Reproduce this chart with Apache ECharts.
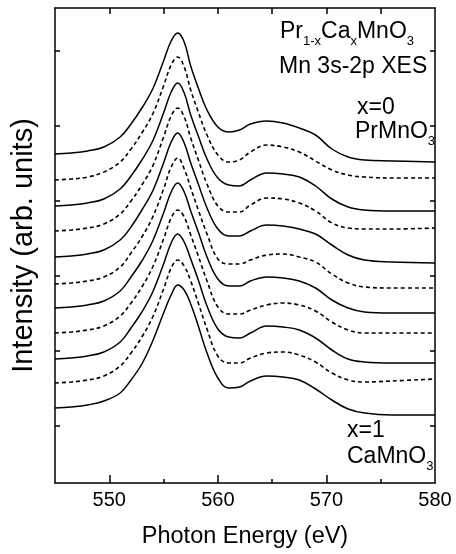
<!DOCTYPE html>
<html>
<head>
<meta charset="utf-8">
<script src="https://cdn.jsdelivr.net/npm/echarts/dist/echarts.min.js"></script>
<style>
html, body { margin: 0; padding: 0; background: #fff; }
#chart_container { width: 456px; height: 554px; }
</style>
</head>
<body>
<div id="chart_container"></div>
<script>
// Mn 3s-2p XES of Pr(1-x)Ca(x)MnO3, spectra stacked with vertical offset

// photon energy grid (eV), shared by all traces
var energies = [545, 546.5, 548, 549.5, 551, 552, 553, 554, 555, 555.7, 556.3, 556.9, 557.5, 558.2,
                559, 560, 561, 562, 563, 564.5, 566, 567.5, 569, 570.5, 572, 573.5, 576, 580];

// intensity (arb. units, offset included), top trace x=0 ... bottom trace x=1
var trace01 = [329, 330, 332, 336, 346, 359, 375, 394, 422, 442, 450, 441, 417, 395, 373, 356, 351, 353, 359, 362, 360, 355, 348, 334, 326, 323, 322, 321];
var trace02 = [303, 304, 306, 311, 321, 334, 350, 369, 397, 418, 426, 416, 393, 371, 348, 328, 321, 323, 331, 338, 336, 331, 322, 313, 308, 306, 305, 305];
var trace03 = [277, 278, 280, 284, 294, 307, 323, 342, 370, 391, 400, 390, 368, 347, 324, 305, 298, 297, 303, 310, 309, 306, 297, 284, 276, 273, 272, 272];
var trace04 = [252, 253, 255, 259, 269, 282, 298, 317, 346, 367, 375, 366, 345, 323, 299, 277, 271, 271, 278, 285, 284, 280, 272, 260, 255, 254, 254, 255];
var trace05 = [226, 227, 229, 233, 243, 256, 273, 292, 320, 341, 350, 340, 320, 299, 275, 254, 247, 247, 252, 258, 257, 254, 249, 238, 228, 223, 221, 220];
var trace06 = [199, 200, 202, 206, 216, 230, 246, 266, 294, 316, 325, 314, 295, 273, 249, 224, 219, 219, 223, 228, 229, 226, 221, 209, 200, 196, 195, 195];
var trace07 = [175, 176, 178, 182, 192, 206, 222, 242, 270, 291, 300, 291, 272, 251, 226, 204, 197, 197, 202, 206, 205, 202, 195, 183, 175, 171, 170, 170];
var trace08 = [150, 151, 153, 157, 167, 180, 196, 216, 244, 265, 273, 266, 248, 227, 202, 176, 169, 169, 173, 178, 180, 178, 172, 161, 153, 150, 150, 150];
var trace09 = [124, 125, 127, 131, 141, 155, 171, 191, 219, 240, 249, 241, 224, 203, 177, 154, 146, 145, 150, 157, 156, 153, 145, 133, 124, 121, 120, 120];
var trace10 = [100, 101, 103, 107, 117, 130, 146, 166, 194, 215, 223, 217, 202, 180, 154, 127, 120, 120, 125, 130, 131, 128, 121, 110, 103, 101, 102, 104];
var trace11 = [75, 76, 78, 82, 90, 103, 119, 142, 170, 188, 198, 193, 179, 157, 130, 105, 95, 96, 102, 107, 106, 103, 94, 83, 74, 70, 68, 68];

var traces = [trace01, trace02, trace03, trace04, trace05, trace06, trace07, trace08, trace09, trace10, trace11];
var traceDashed = [false, true, false, true, false, true, false, true, false, true, false];

// axes
var xLabels = [550, 560, 570, 580];
var xMajorTicks = [550, 560, 570];
var xMinorTicks = [555, 565, 575];
var xTopTicks = [550, 555, 560, 565, 570, 575];
var yTicks = [57, 132, 207, 282, 357, 432];

var FONT = 'Liberation Sans, Arial, sans-serif';

var chartDom = document.getElementById('chart_container');
var myChart = echarts.init(chartDom);

var series = [];
for (let i = 0; i < traces.length; i++) {
    let pts = [];
    for (let j = 0; j < energies.length; j++) {
        pts.push([energies[j], traces[i][j]]);
    }
    series.push({
        type: 'line',
        xAxisIndex: 0,
        yAxisIndex: 0,
        data: pts,
        showSymbol: false,
        smooth: 0.4,
        lineStyle: {
            color: '#000',
            width: traceDashed[i] ? 1.6 : 1.5,
            type: traceDashed[i] ? [4, 3] : 'solid',
        },
        silent: true,
    });
}

var blackLine = { color: '#000', width: 1.5 };

// rich styles for formula text with subscripts
var formulaRich = {
    n: { fontSize: 23, fontFamily: FONT, fill: '#000', verticalAlign: 'bottom', padding: [0, 0, 4, 0] },
    s: { fontSize: 13, fontFamily: FONT, fill: '#000', verticalAlign: 'bottom' },
};

var opt = {
    animation: false,
    backgroundColor: '#fff',
    grid: { left: 55, right: 21, top: 8, bottom: 71 },
    xAxis: [
        {
            type: 'value',
            position: 'bottom',
            min: 545,
            max: 580,
            axisLine: { show: true, onZero: false, lineStyle: blackLine },
            axisTick: { show: true, inside: true, length: 8, customValues: xMajorTicks, lineStyle: blackLine },
            axisLabel: { show: true, customValues: xLabels, fontSize: 20, color: '#000', margin: 7, fontFamily: FONT },
            splitLine: { show: false },
            name: 'Photon Energy (eV)',
            nameLocation: 'middle',
            nameGap: 42,
            nameTextStyle: { fontSize: 23.5, color: '#000', fontFamily: FONT },
        },
        {
            type: 'value',
            position: 'bottom',
            min: 545,
            max: 580,
            axisLine: { show: false, onZero: false },
            axisTick: { show: true, inside: true, length: 4, customValues: xMinorTicks, lineStyle: blackLine },
            axisLabel: { show: false },
            splitLine: { show: false },
        },
        {
            type: 'value',
            position: 'top',
            min: 545,
            max: 580,
            axisLine: { show: true, onZero: false, lineStyle: blackLine },
            axisTick: { show: true, inside: true, length: 6, customValues: xTopTicks, lineStyle: blackLine },
            axisLabel: { show: false },
            splitLine: { show: false },
        },
    ],
    yAxis: [
        {
            type: 'value',
            position: 'left',
            min: 0,
            max: 475,
            axisLine: { show: true, onZero: false, lineStyle: blackLine },
            axisTick: { show: true, inside: true, length: 5, customValues: yTicks, lineStyle: blackLine },
            axisLabel: { show: false },
            splitLine: { show: false },
            name: 'Intensity (arb. units)',
            nameLocation: 'middle',
            nameGap: 17,
            nameRotate: 90,
            nameTextStyle: { fontSize: 29, color: '#000', fontFamily: FONT },
        },
        {
            type: 'value',
            position: 'right',
            min: 0,
            max: 475,
            axisLine: { show: true, onZero: false, lineStyle: blackLine },
            axisTick: { show: true, inside: true, length: 5, customValues: yTicks, lineStyle: blackLine },
            axisLabel: { show: false },
            splitLine: { show: false },
        },
    ],
    graphic: [
        {
            type: 'text', x: 280, y: 34,
            style: { text: '{n|Pr}{s|1-x}{n|Ca}{s|x}{n|MnO}{s|3}', align: 'left', verticalAlign: 'middle', rich: formulaRich },
        },
        {
            type: 'text', x: 279, y: 67,
            style: { text: 'Mn 3s-2p XES', fontSize: 23, fontFamily: FONT, fill: '#000', align: 'left', verticalAlign: 'middle' },
        },
        {
            type: 'text', x: 357, y: 108,
            style: { text: 'x=0', fontSize: 23, fontFamily: FONT, fill: '#000', align: 'left', verticalAlign: 'middle' },
        },
        {
            type: 'text', x: 355, y: 134,
            style: { text: '{n|PrMnO}{s|3}', align: 'left', verticalAlign: 'middle', rich: formulaRich },
        },
        {
            type: 'text', x: 347, y: 431,
            style: { text: 'x=1', fontSize: 23, fontFamily: FONT, fill: '#000', align: 'left', verticalAlign: 'middle' },
        },
        {
            type: 'text', x: 347, y: 459,
            style: { text: '{n|CaMnO}{s|3}', align: 'left', verticalAlign: 'middle', rich: formulaRich },
        },
    ],
    series: series,
};

myChart.setOption(opt);
</script>
</body>
</html>
